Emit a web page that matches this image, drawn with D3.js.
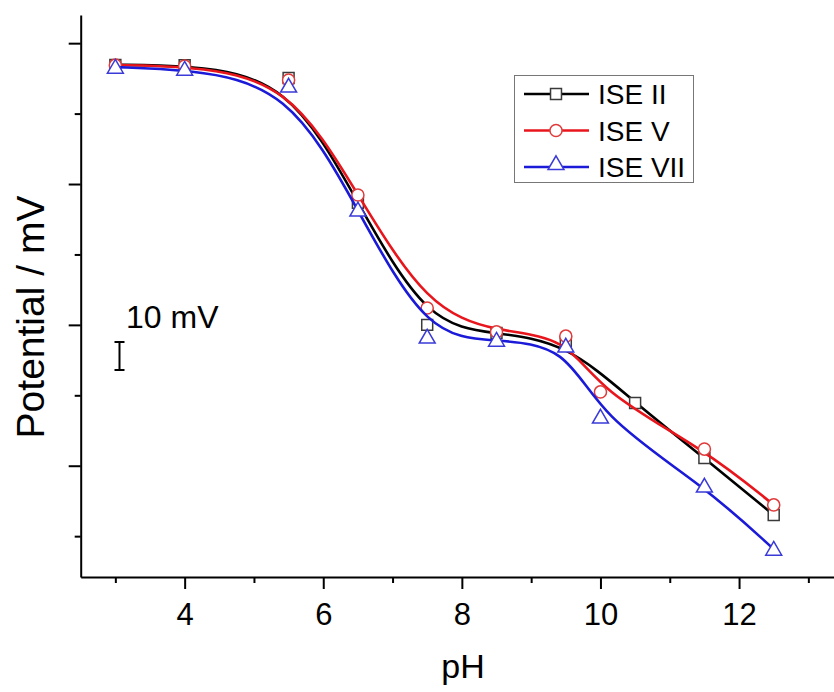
<!DOCTYPE html>
<html>
<head>
<meta charset="utf-8">
<script src="https://cdn.jsdelivr.net/npm/d3@7"></script>
<style>
  body { margin: 0; background: #fff; }
  svg { display: block; font-family: Arial, "Liberation Sans", sans-serif; }
</style>
</head>
<body>
<svg id="chart" width="834" height="692"></svg>
<script>
// pH values per series (ISE II has 10.5 instead of 10)
var phII  = [3, 4, 5.5, 6.5, 7.5, 8.5, 9.5, 10.5, 11.5, 12.5];
var phV   = [3, 4, 5.5, 6.5, 7.5, 8.5, 9.5, 10, 11.5, 12.5];
var phVII = [3, 4, 5.5, 6.5, 7.5, 8.5, 9.5, 10, 11.5, 12.5];

// potential, mV (arbitrary offset, axis has no labels)
var potII  = [192.3, 192.2, 187.6, 143.3, 100.0, 97.1, 93.9, 72.3, 52.7, 32.5];
var potV   = [192.2, 191.9, 186.9, 146.1, 106.0, 97.5, 96.0, 76.2, 55.9, 36.1];
var potVII = [191.5, 190.8, 184.8, 140.8, 95.7, 94.6, 92.5, 67.3, 42.8, 20.4];

var seriesNames = ["ISE II", "ISE V", "ISE VII"];
var xMajor = [4, 6, 8, 10, 12];
var xMinor = [3, 5, 7, 9, 11, 13];
var yMajor = [50, 100, 150, 200];
var yMinor = [25, 75, 125, 175];

var svg = d3.select("#chart");

var x = d3.scaleLinear().domain([2.5, 13.37]).range([80.7, 834]);
var y = d3.scaleLinear().domain([10.5, 210]).range([577, 15]);

var series = [
  {name: seriesNames[0], ph: phII,  pot: potII,  line: "#000000", mark: "#3a3a3a", shape: "square"},
  {name: seriesNames[1], ph: phV,   pot: potV,   line: "#e8161c", mark: "#e03a3a", shape: "circle"},
  {name: seriesNames[2], ph: phVII, pot: potVII, line: "#1a1ad8", mark: "#3a3ad8", shape: "triangle"}
];

// axes
var xMin = svg.append("g").attr("transform", "translate(0,577)")
  .call(d3.axisBottom(x).tickValues(xMinor).tickSize(6).tickFormat(""));
xMin.select(".domain").remove();

var xAx = svg.append("g").attr("transform", "translate(0,577)")
  .call(d3.axisBottom(x).tickValues(xMajor).tickSize(12).tickSizeOuter(0).tickFormat(d3.format("d")));
xAx.selectAll("text").attr("dy", null).attr("y", 48)
  .style("font-size", "31px").style("font-family", "Arial, 'Liberation Sans', sans-serif").attr("fill", "#000");

var yMin = svg.append("g").attr("transform", "translate(80.7,0)")
  .call(d3.axisLeft(y).tickValues(yMinor).tickSize(6).tickFormat(""));
yMin.select(".domain").remove();

var yAx = svg.append("g").attr("transform", "translate(80.7,0)")
  .call(d3.axisLeft(y).tickValues(yMajor).tickSize(12).tickSizeOuter(0).tickFormat(""));

svg.selectAll(".domain, .tick line").attr("stroke", "#000").attr("stroke-width", 2);

// axis titles
svg.append("text").attr("x", 463).attr("y", 678).attr("text-anchor", "middle")
  .style("font-size", "34px").text("pH");
svg.append("text").attr("transform", "translate(44,317) rotate(-90)")
  .attr("text-anchor", "middle").style("font-size", "39px").text("Potential / mV");

// scale bar
svg.append("text").attr("x", 126).attr("y", 328).style("font-size", "32px").text("10 mV");
var bar = svg.append("g").attr("stroke", "#000").attr("stroke-width", 2);
var barX = 119.5, barTop = 342, barBot = 370;
bar.append("line").attr("x1", barX).attr("x2", barX).attr("y1", barTop).attr("y2", barBot);
bar.append("line").attr("x1", barX - 5).attr("x2", barX + 5).attr("y1", barTop).attr("y2", barTop);
bar.append("line").attr("x1", barX - 5).attr("x2", barX + 5).attr("y1", barBot).attr("y2", barBot);

function symbolFor(shape) {
  if (shape == "square") return d3.symbol().type(d3.symbolSquare).size(120);
  if (shape == "circle") return d3.symbol().type(d3.symbolCircle).size(115);
  return d3.symbol().type(d3.symbolTriangle).size(110);
}

var line = d3.line().curve(d3.curveBasis).x(d => x(d[0])).y(d => y(d[1]));

series.forEach(s => {
  var pts = s.ph.map((p, i) => [p, s.pot[i]]);
  svg.append("path").datum(pts).attr("d", line)
    .attr("fill", "none").attr("stroke", s.line).attr("stroke-width", 2.6);
  svg.append("g").selectAll("path").data(pts).enter().append("path")
    .attr("d", symbolFor(s.shape)())
    .attr("transform", d => "translate(" + x(d[0]) + "," + (y(d[1]) + (s.shape == "triangle" ? 1.5 : 0)) + ")")
    .attr("fill", "#fff").attr("stroke", s.mark).attr("stroke-width", 1.5);
});

// legend
var lg = svg.append("g");
lg.append("rect").attr("x", 514.5).attr("y", 75.5).attr("width", 179).attr("height", 107)
  .attr("fill", "#fff").attr("stroke", "#777").attr("stroke-width", 1);
series.forEach((s, i) => {
  var ly = 94 + i * 36.5;
  lg.append("line").attr("x1", 524).attr("x2", 589).attr("y1", ly).attr("y2", ly)
    .attr("stroke", s.line).attr("stroke-width", 2.6);
  lg.append("path").attr("d", symbolFor(s.shape)())
    .attr("transform", "translate(556," + (ly + (s.shape == "triangle" ? -2 : 0)) + ")")
    .attr("fill", "#fff").attr("stroke", s.mark).attr("stroke-width", 1.5);
  lg.append("text").attr("x", 598).attr("y", ly + 10).style("font-size", "28px").text(s.name);
});
</script>
</body>
</html>
